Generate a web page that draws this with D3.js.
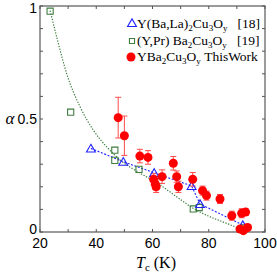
<!DOCTYPE html>
<html lang="en">
<head>
<meta charset="UTF-8">
<title>alpha vs Tc</title>
<script src="https://d3js.org/d3.v7.min.js"></script>
<style>
  body { margin: 0; background: #fff; }
  svg { display: block; }
</style>
</head>
<body>
<div id="chart"></div>
<script>
// Y(Ba,La)2Cu3Oy [18]
const laTc    = [38.1, 49.6, 60.6, 73.9, 76.9, 92.1];
const laAlpha = [0.370, 0.311, 0.262, 0.204, 0.124, 0.031];

// (Y,Pr)Ba2Cu3Oy [19]
const prTc    = [23.6, 30.9, 46.6, 46.6, 55.2, 74.5, 76.6, 92.6];
const prAlpha = [0.977, 0.530, 0.362, 0.317, 0.277, 0.102, 0.108, 0.018];

// dotted guide for the (Y,Pr) data
const prFitTc    = [23.6, 26, 29.5, 34.2, 39, 43.7, 48.4, 55.6, 60.9, 69.8, 74.4, 80, 86, 93];
const prFitAlpha = [0.98, 0.86, 0.70, 0.555, 0.45, 0.377, 0.32, 0.26, 0.223, 0.145, 0.105, 0.07, 0.04, 0.005];

// YBa2Cu3Oy this work
const ybTc    = [47.8, 50.0, 55.5, 58.4, 60.4, 61.0, 61.3, 63.4, 67.4, 68.6, 69.2, 74.3, 77.8, 79.2, 84.0, 88.2, 91.7, 93.1, 91.1, 92.3, 93.8];
const ybAlpha = [0.506, 0.426, 0.336, 0.330, 0.233, 0.212, 0.200, 0.245, 0.304, 0.245, 0.200, 0.233, 0.183, 0.161, 0.146, 0.072, 0.083, 0.088, 0.013, 0.006, 0.020];
const ybErr   = [0.090, 0.087, 0.030, 0.030, 0.025, 0.025, 0.025, 0.030, 0.030, 0.025, 0.025, 0.030, 0.020, 0.020, 0.020, 0.020, 0.020, 0.015, 0.012, 0.012, 0.010];

const xTicks = [20, 30, 40, 50, 60, 70, 80, 90, 100];
const xLabels = [20, 40, 60, 80, 100];
const yTicks = [0, 0.1, 0.2, 0.3, 0.4, 0.5, 0.6, 0.7, 0.8, 0.9, 1];
const yLabels = [0, 0.5, 1];

const W = 277, H = 273;
const L = 40, R = 265, T = 6, B = 232;

const svg = d3.select("#chart").append("svg")
  .attr("width", W).attr("height", H);

const x = d3.scaleLinear().domain([20, 100]).range([L, R]);
const y = d3.scaleLinear().domain([0, 1]).range([B, T]);

const green = "#3f7d3f", blue = "#2222ff", red = "#ff0000";

// fit / guide lines
svg.append("path")
  .datum(d3.zip(prFitTc, prFitAlpha))
  .attr("d", d3.line().x(d => x(d[0])).y(d => y(d[1])).curve(d3.curveMonotoneX))
  .attr("fill", "none").attr("stroke", green)
  .attr("stroke-width", 1.2).attr("stroke-dasharray", "1.3,1.5");

svg.append("path")
  .datum(d3.zip(laTc, laAlpha))
  .attr("d", d3.line().x(d => x(d[0])).y(d => y(d[1])))
  .attr("fill", "none").attr("stroke", blue)
  .attr("stroke-width", 1.1).attr("stroke-dasharray", "2,1.6");

// frame
svg.append("rect")
  .attr("x", L).attr("y", T).attr("width", R - L).attr("height", B - T)
  .attr("fill", "none").attr("stroke", "#7a7a7a").attr("stroke-width", 1.5);

// ticks (inward, all four sides)
const tk = 3;
xTicks.forEach(v => {
  svg.append("line").attr("x1", x(v)).attr("x2", x(v)).attr("y1", B).attr("y2", B - tk)
    .attr("stroke", "#555");
  svg.append("line").attr("x1", x(v)).attr("x2", x(v)).attr("y1", T).attr("y2", T + tk)
    .attr("stroke", "#555");
});
yTicks.forEach(v => {
  svg.append("line").attr("x1", L).attr("x2", L + tk).attr("y1", y(v)).attr("y2", y(v))
    .attr("stroke", "#555");
  svg.append("line").attr("x1", R).attr("x2", R - tk).attr("y1", y(v)).attr("y2", y(v))
    .attr("stroke", "#555");
});

// tick labels
svg.selectAll(".xl").data(xLabels).enter().append("text")
  .attr("x", d => x(d)).attr("y", B + 16)
  .attr("text-anchor", "middle")
  .style("font", "14px 'Liberation Sans', Arial, sans-serif")
  .text(d => d);
svg.selectAll(".yl").data(yLabels).enter().append("text")
  .attr("x", L - 3).attr("y", d => d === 1 ? y(d) + 7 : d === 0 ? y(d) + 2 : y(d) + 5)
  .attr("text-anchor", "end")
  .style("font", "14px 'Liberation Sans', Arial, sans-serif")
  .text(d => d);

// axis titles
svg.append("text")
  .attr("x", 10).attr("y", 124)
  .attr("text-anchor", "middle")
  .style("font", "italic 17px 'Liberation Serif', 'Times New Roman', serif")
  .text("α");

const xt = svg.append("text")
  .attr("x", 156).attr("y", 268)
  .attr("text-anchor", "middle")
  .style("font", "16px 'Liberation Serif', 'Times New Roman', serif");
xt.append("tspan").style("font-style", "italic").text("T");
xt.append("tspan").attr("dy", 3).style("font-size", "11px").text("c");
xt.append("tspan").attr("dy", -3).text(" (K)");

// red error bars
const cap = 3;
ybTc.forEach((t, i) => {
  const g = svg.append("g").attr("stroke", "#ff4a4a").attr("stroke-width", 1);
  const y1 = y(ybAlpha[i] + ybErr[i]), y2 = y(ybAlpha[i] - ybErr[i]);
  g.append("line").attr("x1", x(t)).attr("x2", x(t)).attr("y1", y1).attr("y2", y2);
  g.append("line").attr("x1", x(t) - cap).attr("x2", x(t) + cap).attr("y1", y1).attr("y2", y1);
  g.append("line").attr("x1", x(t) - cap).attr("x2", x(t) + cap).attr("y1", y2).attr("y2", y2);
});

// markers
const sq = d3.symbol().type(d3.symbolSquare).size(38);
const tri = d3.symbol().type(d3.symbolTriangle).size(34);

svg.selectAll(".sq").data(d3.zip(prTc, prAlpha)).enter().append("path")
  .attr("d", sq)
  .attr("transform", d => `translate(${x(d[0])},${y(d[1])})`)
  .attr("fill", "none").attr("stroke", green).attr("stroke-width", 1.1);

svg.selectAll(".tri").data(d3.zip(laTc, laAlpha)).enter().append("path")
  .attr("d", tri)
  .attr("transform", d => `translate(${x(d[0])},${y(d[1]) + 1})`)
  .attr("fill", "none").attr("stroke", blue).attr("stroke-width", 1.1);

svg.selectAll(".dot").data(d3.zip(ybTc, ybAlpha)).enter().append("circle")
  .attr("cx", d => x(d[0])).attr("cy", d => y(d[1]))
  .attr("r", 4.5).attr("fill", red);

// legend
const lg = svg.append("g").style("font", "13.5px 'Liberation Serif', 'Times New Roman', serif");
const lx = 132, tx = 137;
lg.append("path").attr("d", tri).attr("transform", `translate(${lx},${24})`)
  .attr("fill", "none").attr("stroke", blue).attr("stroke-width", 1.1);
lg.append("path").attr("d", d3.symbol().type(d3.symbolSquare).size(26))
  .attr("transform", `translate(${lx},${41})`)
  .attr("fill", "none").attr("stroke", green).attr("stroke-width", 1.1);
lg.append("circle").attr("cx", lx - 1).attr("cy", 57).attr("r", 4.5).attr("fill", red);

// parts: [text, isSubscript]; the tspan after a subscript moves back up
function formula(yy, parts) {
  const t = lg.append("text").attr("x", tx).attr("y", yy);
  let shift = 0;
  parts.forEach(p => {
    const target = p[1] ? 3 : 0;
    const s = t.append("tspan").attr("dy", target - shift).text(p[0]);
    if (p[1]) s.style("font-size", "9px");
    shift = target;
  });
}
formula(28, [["Y(Ba,La)"], ["2", 1], ["Cu"], ["3", 1], ["O"], ["y", 1], ["\u00a0\u00a0\u00a0[18]"]]);
formula(45, [["(Y,Pr) Ba"], ["2", 1], ["Cu"], ["3", 1], ["O"], ["y", 1], ["\u00a0\u00a0\u00a0[19]"]]);
formula(61, [["YBa"], ["2", 1], ["Cu"], ["3", 1], ["O"], ["y", 1], ["\u00a0ThisWork"]]);
</script>
</body>
</html>
